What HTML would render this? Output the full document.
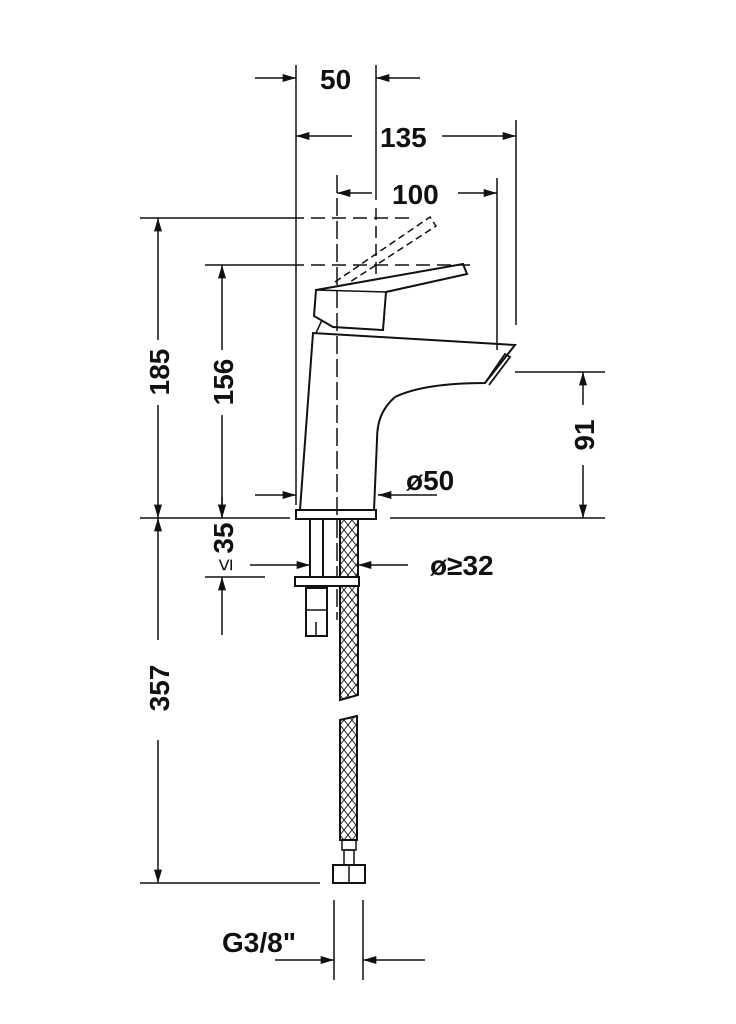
<!DOCTYPE html>
<html><head><style>body{margin:0;background:#fff}svg{display:block}text{font-family:"Liberation Sans Narrow","Liberation Sans",sans-serif;font-weight:bold;font-size:28px;fill:#111}</style></head>
<body>
<svg width="736" height="1024" viewBox="0 0 736 1024" xmlns="http://www.w3.org/2000/svg">
<defs>
<marker id="a" viewBox="0 0 10 6" refX="10" refY="3" markerWidth="18" markerHeight="8" markerUnits="userSpaceOnUse" orient="auto"><path d="M0,0L10,3L0,6z" fill="#111"/></marker>
<pattern id="h" width="8" height="10" patternUnits="userSpaceOnUse"><path d="M0,0L8,10M8,0L0,10" stroke="#222" stroke-width="1"/></pattern>
</defs>
<g stroke="#111" stroke-width="1.5" fill="none">
<line x1="296" y1="65" x2="296" y2="505"/>
<line x1="376" y1="65" x2="376" y2="200"/>
<line x1="376" y1="208" x2="376" y2="280" stroke-dasharray="12,6"/>
<line x1="516" y1="120" x2="516" y2="325"/>
<line x1="497" y1="178" x2="497" y2="350"/>
<line x1="337" y1="175" x2="337" y2="620" stroke-dasharray="18,5"/>
<line x1="140" y1="218" x2="290" y2="218"/>
<line x1="290" y1="218" x2="410" y2="218" stroke-dasharray="14,7"/>
<line x1="205" y1="265" x2="290" y2="265"/>
<line x1="290" y1="265" x2="470" y2="265" stroke-dasharray="14,7"/>
<line x1="140" y1="518" x2="290" y2="518"/>
<line x1="390" y1="518" x2="605" y2="518"/>
<line x1="515" y1="372" x2="605" y2="372"/>
<line x1="205" y1="577" x2="265" y2="577"/>
<line x1="140" y1="883" x2="320" y2="883"/>
<line x1="334" y1="900" x2="334" y2="980"/>
<line x1="363" y1="900" x2="363" y2="980"/>
<line x1="255" y1="78" x2="296" y2="78" marker-end="url(#a)"/>
<line x1="420" y1="78" x2="376" y2="78" marker-end="url(#a)"/>
<line x1="352" y1="136" x2="296" y2="136" marker-end="url(#a)"/>
<line x1="442" y1="136" x2="516" y2="136" marker-end="url(#a)"/>
<line x1="372" y1="193" x2="337" y2="193" marker-end="url(#a)"/>
<line x1="458" y1="193" x2="497" y2="193" marker-end="url(#a)"/>
<line x1="158" y1="340" x2="158" y2="218" marker-end="url(#a)"/>
<line x1="158" y1="405" x2="158" y2="518" marker-end="url(#a)"/>
<line x1="222" y1="350" x2="222" y2="265" marker-end="url(#a)"/>
<line x1="222" y1="415" x2="222" y2="518" marker-end="url(#a)"/>
<line x1="583" y1="405" x2="583" y2="372" marker-end="url(#a)"/>
<line x1="583" y1="465" x2="583" y2="518" marker-end="url(#a)"/>
<line x1="255" y1="495" x2="296" y2="495" marker-end="url(#a)"/>
<line x1="437" y1="495" x2="378" y2="495" marker-end="url(#a)"/>
<line x1="222" y1="497" x2="222" y2="518" marker-end="url(#a)"/>
<line x1="222" y1="635" x2="222" y2="577" marker-end="url(#a)"/>
<line x1="250" y1="565" x2="310" y2="565" marker-end="url(#a)"/>
<line x1="408" y1="565" x2="358" y2="565" marker-end="url(#a)"/>
<line x1="158" y1="640" x2="158" y2="518" marker-end="url(#a)"/>
<line x1="158" y1="740" x2="158" y2="883" marker-end="url(#a)"/>
<line x1="275" y1="960" x2="334" y2="960" marker-end="url(#a)"/>
<line x1="425" y1="960" x2="363" y2="960" marker-end="url(#a)"/>
<path d="M300,510 L313,333 L515,345 L485,383 C460,383 420,385 395,397 C380,410 377,425 377,440 L374,510" stroke-width="2"/>
<path d="M485,383 L505,354 L510,357 L489,385" stroke-width="1.8"/>
<path d="M316,290 L463,264 L467,274 L386,292 L383,330 L333,327 L314,316 Z" stroke-width="2"/>
<path d="M316,290 L386,292" stroke-width="1.5"/>
<path d="M322,320 L316,333"/>
<path d="M335,282 L430,217 L436,226 L350,282" stroke-dasharray="7,4"/>
<rect x="296" y="510" width="80" height="9" stroke-width="2"/>
<line x1="310" y1="519" x2="310" y2="577" stroke-width="2"/>
<line x1="323" y1="519" x2="323" y2="577" stroke-width="2"/>
<path d="M340,519 L358,519 L358,695 L340,700 Z" fill="url(#h)" stroke-width="2"/>
<rect x="295" y="577" width="64" height="9" fill="#fff" stroke-width="2"/>
<rect x="306" y="588" width="21" height="48" stroke-width="2"/>
<line x1="306" y1="610" x2="327" y2="610"/>
<line x1="316" y1="622" x2="316" y2="636"/>
<path d="M340,720 L357,716 L357,840 L340,840 Z" fill="url(#h)" stroke-width="2"/>
<rect x="342" y="840" width="14" height="10"/>
<rect x="344" y="850" width="10" height="15"/>
<rect x="333" y="865" width="32" height="18" stroke-width="2"/>
<line x1="349" y1="865" x2="349" y2="883"/>
</g>
<g>
<text x="320" y="89">50</text>
<text x="380" y="147">135</text>
<text x="392" y="204">100</text>
<text x="406" y="490">ø50</text>
<text x="430" y="575">ø≥32</text>
<text x="222" y="952">G3/8"</text>
<text transform="translate(169,372) rotate(-90)" text-anchor="middle">185</text>
<text transform="translate(233,382) rotate(-90)" text-anchor="middle">156</text>
<text transform="translate(594,435) rotate(-90)" text-anchor="middle">91</text>
<text transform="translate(233,538) rotate(-90)" text-anchor="middle">35</text>
<text transform="translate(232,565) rotate(-90)" text-anchor="middle" style="font-weight:normal;font-size:22px">≤</text>
<text transform="translate(169,688) rotate(-90)" text-anchor="middle">357</text>
</g>
</svg>
</body></html>
